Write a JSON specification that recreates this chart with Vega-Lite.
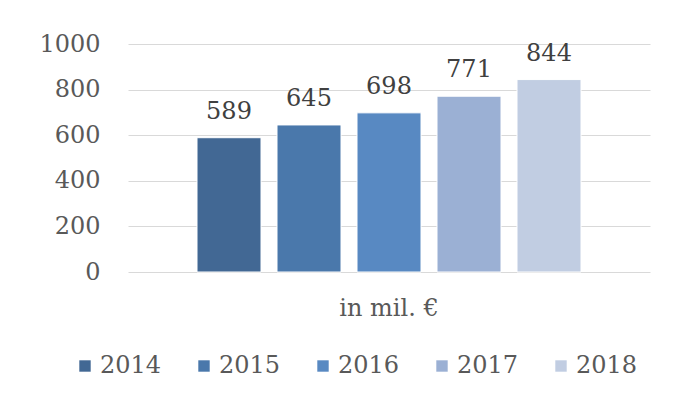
{
  "$schema": "https://vega.github.io/schema/vega-lite/v6.json",
  "width": 522,
  "height": 228,
  "autosize": {"type": "none"},
  "padding": {"left": 128, "top": 44, "right": 31, "bottom": 131},
  "background": "white",
  "config": {
    "view": {"stroke": null},
    "font": "DejaVu Serif",
    "axis": {"labelFont": "DejaVu Serif", "labelColor": "#595959", "labelFontSize": 24, "labelFontWeight": "normal"},
    "legend": {"labelFont": "DejaVu Serif", "labelColor": "#595959", "labelFontSize": 24}
  },
  "data": {
    "values": [
      {"cat": "in mil. €", "year": "2014", "value": 589},
      {"cat": "in mil. €", "year": "2015", "value": 645},
      {"cat": "in mil. €", "year": "2016", "value": 698},
      {"cat": "in mil. €", "year": "2017", "value": 771},
      {"cat": "in mil. €", "year": "2018", "value": 844}
    ]
  },
  "encoding": {
    "x": {
      "field": "cat", "type": "nominal",
      "scale": {"paddingInner": 0, "paddingOuter": 0.1525},
      "axis": {"title": null, "labelAngle": 0, "domain": false, "ticks": false, "tickSize": 0, "labelPadding": 24}
    },
    "xOffset": {
      "field": "year", "type": "nominal",
      "scale": {"paddingInner": 0.2, "paddingOuter": 0.1}
    },
    "y": {
      "field": "value", "type": "quantitative",
      "scale": {"domain": [0, 1000]},
      "axis": {"title": null, "values": [0, 200, 400, 600, 800, 1000], "format": "d", "domain": false, "ticks": false, "tickSize": 0, "labelPadding": 28, "gridColor": "#d9d9d9", "gridWidth": 1}
    }
  },
  "layer": [
    {
      "mark": {"type": "bar", "stroke": "white", "strokeWidth": 1},
      "encoding": {
        "color": {
          "field": "year", "type": "nominal",
          "scale": {"domain": ["2014", "2015", "2016", "2017", "2018"], "range": ["#426894", "#4a78ab", "#5889c2", "#9bb0d4", "#c1cde2"]},
          "legend": {"title": null, "orient": "none", "direction": "horizontal", "legendX": -55, "legendY": 310, "symbolType": "square", "symbolSize": 130, "symbolStrokeWidth": 0, "labelOffset": 3, "columnPadding": 30}
        }
      }
    },
    {
      "mark": {"type": "text", "baseline": "alphabetic", "dy": -19, "fontSize": 24, "color": "#404040"},
      "encoding": {
        "text": {"field": "value", "type": "quantitative"}
      }
    }
  ]
}
